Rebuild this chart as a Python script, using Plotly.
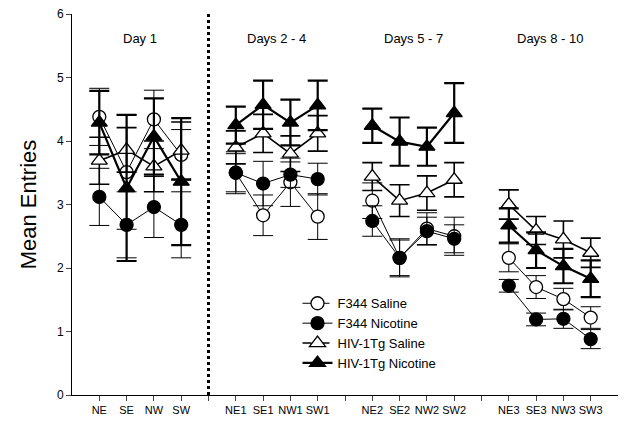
import plotly.graph_objs as go

# x-axis tick labels; empty strings are the gaps between day blocks
tick_labels = [
    "NE", "SE", "NW", "SW", "",
    "NE1", "SE1", "NW1", "SW1", "",
    "NE2", "SE2", "NW2", "SW2", "",
    "NE3", "SE3", "NW3", "SW3",
]
block_titles = ["Day 1", "Days 2 - 4", "Days 5 - 7", "Days 8 - 10"]

f344_saline = [4.38, 3.51, 4.34, 3.78, 3.50, 2.83, 3.35, 2.81,
               3.06, 2.16, 2.62, 2.50, 2.16, 1.70, 1.51, 1.22]
f344_saline_err = [0.45, 0.90, 0.46, 0.40, 0.33, 0.32, 0.38, 0.36,
                   0.28, 0.30, 0.25, 0.30, 0.22, 0.18, 0.17, 0.17]

f344_nicotine = [3.12, 2.68, 2.96, 2.68, 3.50, 3.33, 3.47, 3.40,
                 2.74, 2.16, 2.58, 2.46, 1.72, 1.19, 1.20, 0.88]
f344_nicotine_err = [0.45, 0.52, 0.48, 0.52, 0.30, 0.35, 0.20, 0.25,
                     0.24, 0.28, 0.22, 0.22, 0.10, 0.10, 0.15, 0.15]

hiv_saline = [3.69, 3.86, 3.60, 3.85, 3.90, 4.12, 3.80, 4.12,
              3.44, 3.06, 3.18, 3.39, 3.00, 2.59, 2.45, 2.24]
hiv_saline_err = [0.37, 0.35, 0.40, 0.45, 0.26, 0.30, 0.28, 0.28,
                  0.22, 0.25, 0.27, 0.27, 0.23, 0.22, 0.29, 0.23]

hiv_nicotine = [4.29, 3.26, 4.07, 3.36, 4.25, 4.57, 4.29, 4.56,
                4.24, 3.99, 3.91, 4.44, 2.67, 2.28, 2.03, 1.83]
hiv_nicotine_err = [0.50, 1.15, 0.60, 1.00, 0.29, 0.38, 0.36, 0.39,
                    0.27, 0.38, 0.30, 0.47, 0.27, 0.28, 0.27, 0.29]

series = [
    ("F344 Saline", f344_saline, f344_saline_err, "circle", "white", 1, "dash"),
    ("F344 Nicotine", f344_nicotine, f344_nicotine_err, "circle", "black", 1, "solid"),
    ("HIV-1Tg Saline", hiv_saline, hiv_saline_err, "triangle-up", "white", 1.6, "dash"),
    ("HIV-1Tg Nicotine", hiv_nicotine, hiv_nicotine_err, "triangle-up", "black", 2.2, "solid"),
]


def with_gaps(values):
    # insert None at the empty tick positions so lines break between blocks
    out, it = [], iter(values)
    for lab in tick_labels:
        out.append(next(it) if lab else None)
    return out


x_pos = list(range(1, len(tick_labels) + 1))

fig = go.Figure()

for name, vals, errs, symbol, fill, width, dash in series:
    marker = dict(
        symbol=symbol,
        size=13 if symbol == "circle" else 14,
        color=fill,
        line=dict(color="black", width=1.3),
    )
    fig.add_trace(
        go.Scatter(
            x=x_pos,
            y=with_gaps(vals),
            mode="lines+markers",
            connectgaps=False,
            line=dict(color="black", width=width),
            marker=marker,
            error_y=dict(
                type="data",
                array=with_gaps(errs),
                color="black",
                thickness=width,
                width=10,
            ),
            showlegend=False,
        )
    )
    # legend entry
    fig.add_trace(
        go.Scatter(
            x=[None],
            y=[None],
            mode="lines+markers",
            name=name,
            line=dict(color="black", width=width, dash=dash),
            marker=marker,
        )
    )

# dotted divider between day 1 and the later days
divider_x = 5
fig.add_shape(
    type="line", x0=divider_x, x1=divider_x, y0=0, y1=6,
    xref="x", yref="y",
    line=dict(color="black", width=3, dash="dot"),
)

for i, title in enumerate(block_titles):
    fig.add_annotation(
        x=2.5 + 5 * i, y=5.62, text=title, showarrow=False,
        font=dict(size=13, color="black"),
    )

fig.update_layout(
    width=621,
    height=419,
    margin=dict(l=64, r=11, t=6, b=32),
    paper_bgcolor="white",
    plot_bgcolor="white",
    font=dict(family="Liberation Sans, Arial, sans-serif", color="black"),
    legend=dict(
        x=0.413, y=0.28, xanchor="left", yanchor="top",
        font=dict(size=13), bgcolor="rgba(0,0,0,0)",
        tracegroupgap=0,
    ),
    xaxis=dict(
        range=[0, 20],
        tickvals=x_pos,
        ticktext=tick_labels,
        ticks="outside",
        ticklen=5,
        showline=True,
        linecolor="black",
        linewidth=1,
        showgrid=False,
        zeroline=False,
        tickfont=dict(size=11),
    ),
    yaxis=dict(
        range=[0, 6],
        dtick=1,
        ticks="outside",
        ticklen=5,
        showline=True,
        linecolor="black",
        linewidth=1,
        showgrid=False,
        zeroline=False,
        automargin=False,
        ticklabeloverflow="allow",
        tickfont=dict(size=12),
        title=dict(text="Mean Entries", font=dict(size=22), standoff=14),
    ),
)

fig.write_html("out.html")
